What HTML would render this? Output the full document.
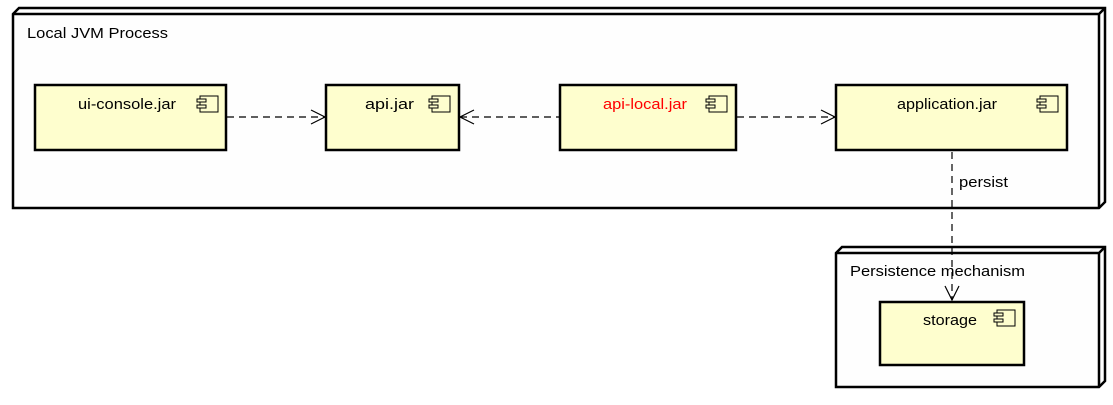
<!DOCTYPE html>
<html><head><meta charset="utf-8"><style>body{margin:0;background:#fff}</style></head><body>
<svg width="1113" height="400" xmlns="http://www.w3.org/2000/svg" font-family="Liberation Sans, sans-serif" font-size="15">
<rect width="1113" height="400" fill="#fff"/>
<polygon points="13,14 19,8 1105,8 1105,202 1099,208 13,208" fill="#fefefe" stroke="#000" stroke-width="2.5"/>
<polyline points="13,14 1099,14 1105,8" fill="none" stroke="#000" stroke-width="2.5"/>
<line x1="1099" y1="14" x2="1099" y2="208" stroke="#000" stroke-width="2.5"/>
<text x="27" y="38" textLength="141" lengthAdjust="spacingAndGlyphs">Local JVM Process</text>
<polygon points="836,253 842,247 1105,247 1105,381 1099,387 836,387" fill="#fefefe" stroke="#000" stroke-width="2.5"/>
<polyline points="836,253 1099,253 1105,247" fill="none" stroke="#000" stroke-width="2.5"/>
<line x1="1099" y1="253" x2="1099" y2="387" stroke="#000" stroke-width="2.5"/>
<text x="850" y="276" textLength="175" lengthAdjust="spacingAndGlyphs">Persistence mechanism</text>
<g stroke="#000" stroke-width="2.5" fill="#fefece">
<rect x="35" y="85" width="191" height="65"/>
<rect x="326" y="85" width="133" height="65"/>
<rect x="560" y="85" width="176" height="65"/>
<rect x="836" y="85" width="231" height="65"/>
<rect x="880" y="302" width="144" height="63"/>
</g>
<text x="78" y="109" textLength="98" lengthAdjust="spacingAndGlyphs">ui-console.jar</text>
<text x="365" y="109" textLength="49" lengthAdjust="spacingAndGlyphs">api.jar</text>
<text x="603" y="109" fill="#f00" textLength="84" lengthAdjust="spacingAndGlyphs">api-local.jar</text>
<text x="897" y="109" textLength="100" lengthAdjust="spacingAndGlyphs">application.jar</text>
<text x="923" y="325" textLength="54" lengthAdjust="spacingAndGlyphs">storage</text>
<g fill="#fefece" stroke="#000" stroke-width="1">
<g transform="translate(200,96)"><rect x="0" y="0" width="18" height="16" fill="none"/><rect x="-3" y="3" width="9" height="3"/><rect x="-3" y="9" width="9" height="3"/></g>
<g transform="translate(432,96)"><rect x="0" y="0" width="18" height="16" fill="none"/><rect x="-3" y="3" width="9" height="3"/><rect x="-3" y="9" width="9" height="3"/></g>
<g transform="translate(709,96)"><rect x="0" y="0" width="18" height="16" fill="none"/><rect x="-3" y="3" width="9" height="3"/><rect x="-3" y="9" width="9" height="3"/></g>
<g transform="translate(1040,96)"><rect x="0" y="0" width="18" height="16" fill="none"/><rect x="-3" y="3" width="9" height="3"/><rect x="-3" y="9" width="9" height="3"/></g>
<g transform="translate(997,310)"><rect x="0" y="0" width="18" height="16" fill="none"/><rect x="-3" y="3" width="9" height="3"/><rect x="-3" y="9" width="9" height="3"/></g>
</g>
<g stroke="#000" stroke-width="1.2" fill="none">
<line x1="227" y1="117" x2="325" y2="117" stroke-dasharray="7,5"/>
<polyline points="311,110 325,117 311,124"/>
<line x1="460" y1="117" x2="559" y2="117" stroke-dasharray="7,5"/>
<polyline points="474,110 460,117 474,124"/>
<line x1="737" y1="117" x2="835" y2="117" stroke-dasharray="7,5"/>
<polyline points="821,110 835,117 821,124"/>
<line x1="952" y1="152" x2="952" y2="300" stroke-dasharray="7,5"/>
<polyline points="945,286 952,300 959,286"/>
</g>
<text x="959" y="187" textLength="49" lengthAdjust="spacingAndGlyphs">persist</text>
</svg>
</body></html>
